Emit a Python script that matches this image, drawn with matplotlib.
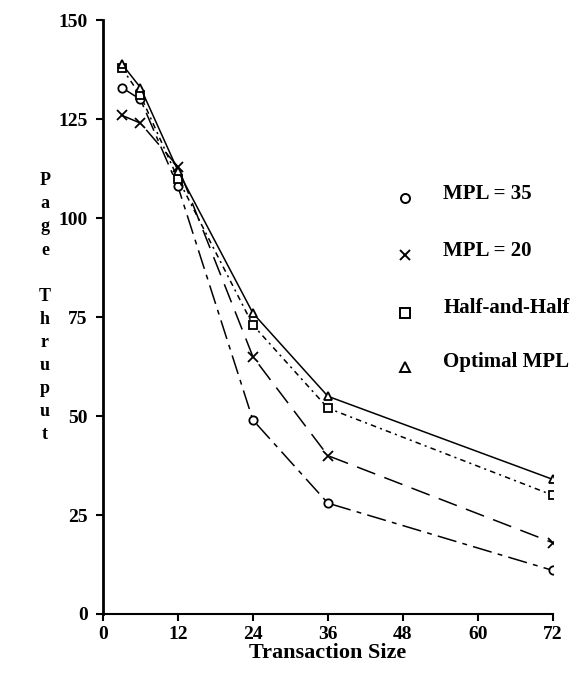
import matplotlib.pyplot as plt

plt.rcParams['font.family'] = ['Liberation Serif', 'DejaVu Serif']
plt.rcParams['font.weight'] = 'bold'
plt.rcParams['lines.scale_dashes'] = False

# transaction sizes and page throughput for each policy
sizes = [3, 6, 12, 24, 36, 72]
mpl35 = [133, 130, 108, 49, 28, 11]
mpl20 = [126, 124, 113, 65, 40, 18]
half_half = [138, 131, 110, 73, 52, 30]
optimal = [139, 133, 112, 76, 55, 34]

x_ticks = [0, 12, 24, 36, 48, 60, 72]
y_ticks = [0, 25, 50, 75, 100, 125, 150]

fig = plt.figure(figsize=(5.85, 6.75), dpi=100)
ax = fig.add_axes([0.176, 0.0904, 0.769, 0.8796])

ax.plot(sizes, mpl35, color='black', lw=1.1, dashes=(14, 4.5, 3.5, 4.5),
        marker='o', ms=6, mfc='white', mew=1.3)
ax.plot(sizes, mpl20, color='black', lw=1.1, dashes=(14, 7),
        marker='x', ms=7, mew=1.3)
ax.plot(sizes, half_half, color='black', lw=1.1, dashes=(4, 3, 1.5, 3),
        marker='s', ms=6, mfc='white', mew=1.3)
ax.plot(sizes, optimal, color='black', lw=1.1, linestyle='-',
        marker='^', ms=6, mfc='white', mew=1.3)

ax.set_xlim(0, 72)
ax.set_ylim(0, 150)
ax.set_xticks(x_ticks)
ax.set_yticks(y_ticks)
ax.spines['top'].set_visible(False)
ax.spines['right'].set_visible(False)
ax.spines['left'].set_linewidth(2)
ax.spines['bottom'].set_linewidth(1.5)
ax.tick_params(direction='out', length=5, width=1.5, labelsize=14)
ax.tick_params(axis='y', pad=6)
ax.set_xlabel('Transaction Size', fontsize=16, fontweight='bold', labelpad=0)

# stacked vertical axis title
fig.text(0.077, 0.544, 'P\na\ng\ne\n\nT\nh\nr\nu\np\nu\nt', ha='center', va='center',
         fontsize=13, fontweight='bold', linespacing=1.47)

# legend drawn as marker + label rows
legend_items = [('o', 'MPL = 35'), ('x', 'MPL = 20'),
                ('s', 'Half-and-Half'), ('^', 'Optimal MPL')]
row_y = [0.707, 0.622, 0.537, 0.457]
for (m, label), y in zip(legend_items, row_y):
    fig.lines.append(plt.Line2D([0.693], [y], marker=m, color='black', ms=6.5,
                                mfc='white', mew=1.4, transform=fig.transFigure))
    fig.text(0.758, y + 0.006, label, ha='left', va='center', fontsize=15,
             fontweight='bold')

fig.savefig('out.png', dpi=100)
